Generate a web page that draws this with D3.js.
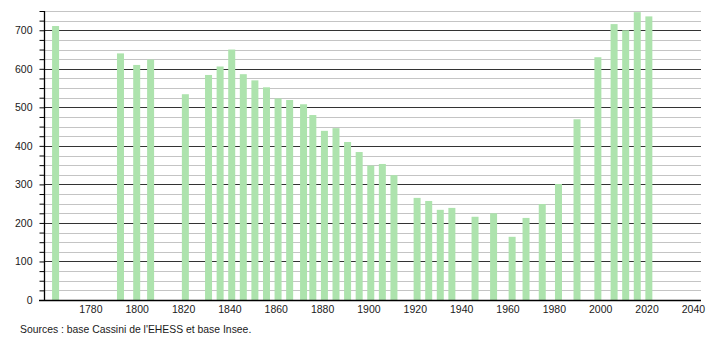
<html lang="fr">
  <head>
    <meta charset="utf-8">
    <title>Population</title>
    <script src="https://d3js.org/d3.v7.min.js"></script>
    <style>
      body { margin: 0; background: #fff; }
      text { font-family: "Liberation Sans", Arial, sans-serif; }
    </style>
  </head>
  <body>
    <script type="text/javascript">
      var years = [1765, 1793, 1800, 1806, 1821, 1831, 1836, 1841, 1846, 1851, 1856, 1861, 1866,
                   1872, 1876, 1881, 1886, 1891, 1896, 1901, 1906, 1911, 1921, 1926, 1931, 1936,
                   1946, 1954, 1962, 1968, 1975, 1982, 1990, 1999, 2006, 2011, 2016, 2021];
      var population = [711, 640, 610, 624, 534, 584, 606, 650, 586, 570, 552, 523, 519,
                        508, 480, 439, 446, 410, 384, 349, 353, 324, 265, 257, 234, 239,
                        216, 225, 164, 213, 249, 301, 469, 630, 716, 700, 747, 736];
      var xTicks = [1780, 1800, 1820, 1840, 1860, 1880, 1900, 1920, 1940, 1960, 1980, 2000, 2020, 2040];
      var source = "Sources : base Cassini de l'EHESS et base Insee.";

      var w = 710;
      var h = 340;
      var margin = {top: 11, right: 9, bottom: 40, left: 44};

      var xScale = d3.scaleLinear()
                     .domain([1760, 2043.5])
                     .range([margin.left, w - margin.right]);
      var yScale = d3.scaleLinear()
                     .domain([0, 750])
                     .range([h - margin.bottom, margin.top]);

      var svg = d3.select("body")
                  .append("svg")
                  .attr("width", w)
                  .attr("height", h);

      // grid: light every 25, dark every 100
      var minor = d3.range(25, 751, 25).filter(function (d) { return d % 100 != 0; });
      var major = d3.range(100, 701, 100);
      svg.append("g").selectAll("line")
         .data(minor)
         .enter().append("line")
         .attr("x1", margin.left).attr("x2", w - margin.right)
         .attr("y1", function (d) { return Math.round(yScale(d)) + 0.5; })
         .attr("y2", function (d) { return Math.round(yScale(d)) + 0.5; })
         .style("stroke", "#c4c4c4");
      svg.append("g").selectAll("line")
         .data(major)
         .enter().append("line")
         .attr("x1", margin.left).attr("x2", w - margin.right)
         .attr("y1", function (d) { return Math.round(yScale(d)) + 0.5; })
         .attr("y2", function (d) { return Math.round(yScale(d)) + 0.5; })
         .style("stroke", "#333");

      // bars
      var bw = 7;
      svg.append("g").selectAll("rect")
         .data(years)
         .enter().append("rect")
         .attr("x", function (d) { return xScale(d) - bw / 2; })
         .attr("y", function (d, i) { return yScale(population[i]); })
         .attr("width", bw)
         .attr("height", function (d, i) { return yScale(0) - yScale(population[i]); })
         .style("fill", "#ade3ad");

      // y axis
      var yAxis = d3.axisLeft(yScale)
                    .tickValues(d3.range(0, 751, 25))
                    .tickSize(5)
                    .tickFormat(function (d) { return d % 100 == 0 && d <= 700 ? d : ""; });
      var gy = svg.append("g")
          .attr("transform", "translate(" + (margin.left + 0.5) + ",0)")
          .call(yAxis);
      gy.select(".domain").remove();
      gy.append("line")
        .attr("x1", 0).attr("x2", 0)
        .attr("y1", yScale(750)).attr("y2", yScale(0))
        .style("stroke", "#000").style("stroke-width", 1.3);
      gy.selectAll(".tick line").style("stroke", "#000");
      gy.selectAll(".tick text")
        .attr("x", -12)
        .style("font-size", "10.5px")
        .style("fill", "#1a1a1a");

      // x axis
      var xAxis = d3.axisBottom(xScale)
                    .tickValues(xTicks)
                    .tickSize(0)
                    .tickFormat(d3.format("d"));
      var gx = svg.append("g")
          .attr("transform", "translate(0," + (yScale(0) + 0.5) + ")")
          .call(xAxis);
      gx.select(".domain").remove();
      gx.append("line")
        .attr("x1", 39).attr("x2", w - margin.right)
        .attr("y1", 0).attr("y2", 0)
        .style("stroke", "#000").style("stroke-width", 1.3);
      gx.selectAll(".tick text")
        .attr("y", 5)
        .style("font-size", "10.5px")
        .style("fill", "#1a1a1a");

      svg.append("text")
         .attr("x", 20)
         .attr("y", 333)
         .style("font-size", "10.4px")
         .style("fill", "#1a1a1a")
         .text(source);
    </script>
  </body>
</html>
